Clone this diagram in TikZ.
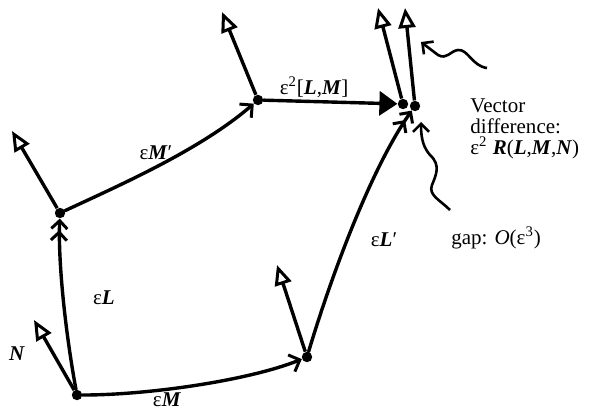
\documentclass[tikz,border=0pt]{standalone}
\usepackage{fontspec}
\setmainfont{Liberation Serif}
\usepackage{tikz}
\usetikzlibrary{arrows.meta,positioning,calc}
\tikzset{
  vecdot/.style={circle,fill=black,inner sep=0pt,minimum size=5.2pt},
  pathline/.style={line width=1.7pt,line cap=round},
  curveM/.style={pathline,-{Straight Barb[length=4.5pt,width=9pt,line width=1.5pt]}},
  curveL/.style={pathline,-{Straight Barb[length=4pt,width=8pt,line width=1.5pt]
      Straight Barb[length=4pt,width=8pt,line width=1.5pt]}},
  bracketarr/.style={pathline,-{Triangle[length=9pt,width=12pt]}},
  vecN/.style={line width=1.7pt,-{Triangle[open,length=10pt,width=8.5pt,line width=1.5pt]}},
  wavy/.style={line width=1.3pt,-{Straight Barb[length=4pt,width=8pt,line width=1.3pt]}},
  lab/.style={font=\fontsize{10.5}{10.5}\selectfont,inner sep=1pt},
}
\newcommand{\bv}[1]{\textbf{\textit{#1}}}
\newcommand{\normvec}[3]{\coordinate (#2) at (#3); \draw[vecN] (#1) -- (#2);}

\begin{document}
\begin{tikzpicture}[x=0.5pt,y=-0.5pt]
  \useasboundingbox (0,0) rectangle (592,409);

  % corners of the loop
  \node[vecdot] (O) at (77,395) {};
  \node[vecdot] (A) at (307,357) {};
  \node[vecdot] (B) at (60,213) {};
  \node[vecdot] (C) at (258,100) {};
  \node[vecdot] (D1) at (403,104) {};
  \node[vecdot] (D2) at (415,106) {};

  % transported vectors
  \normvec{O}{nO}{34,320}
  \normvec{A}{nA}{277,265}
  \normvec{B}{nB}{12,131}
  \normvec{C}{nC}{222,12}
  \normvec{D1}{nD1}{378,8}
  \normvec{D2}{nD2}{405,8}

  % sides
  \draw[curveM] (O) .. controls (150,395) and (250,380) .. (A);
  \draw[curveL] (O) .. controls (65,330) and (58,260) .. (B);
  \draw[curveM] (B) .. controls (120,185) and (200,150) .. (C);
  \draw[curveL] (A) .. controls (330,280) and (370,170) .. (D2);
  \draw[bracketarr] (C) -- (D1);

  % pointers
  \coordinate (wTa) at (487,68);
  \coordinate (wTb) at (421,42);
  \draw[wavy] (wTa) .. controls (472,66) and (468,49) .. (458,50)
    .. controls (450,51) and (447,60) .. (438,55) -- (wTb);
  \coordinate (wGa) at (450,210);
  \coordinate (wGb) at (421,122);
  \draw[wavy] (wGa) .. controls (440,200) and (428,195) .. (432,185)
    .. controls (436,175) and (441,165) .. (430,155)
    .. controls (424,148) and (421,140) .. (wGb);

  % labels
  \node[lab] (lN) at (17,354) {\bv{N}};
  \node[lab] (lL) at (104,298) {ε\bv{L}};
  \node[lab] (lM) at (167,400) {ε\bv{M}};
  \node[lab] (lMp) at (156,153) {ε\bv{M}′};
  \node[lab] (lLM) at (314,87) {ε\textsuperscript{2}[\bv{L},\bv{M}]};
  \node[lab] (lLp) at (384,240) {ε\bv{L}′};
  \node[lab,align=left,anchor=north west] (lR) at (468,96)
    {Vector\\difference:\\ε\textsuperscript{2} \bv{R}(\bv{L},\bv{M},\bv{N})};
  \node[lab,anchor=west] (lgap) at (449,238) {gap: \textit{O}(ε\textsuperscript{3})};
\end{tikzpicture}
\end{document}
